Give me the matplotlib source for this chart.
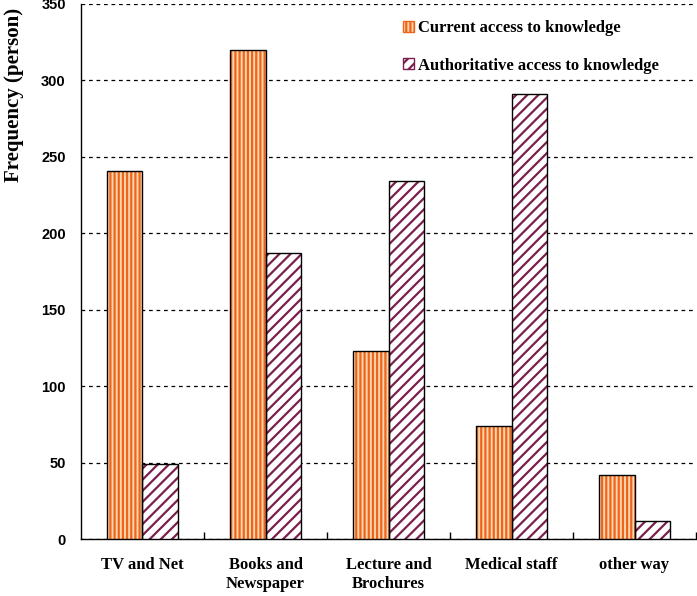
import matplotlib.pyplot as plt
import numpy as np

categories = ["TV and Net", "Books and\nNewspaper", "Lecture and\nBrochures", "Medical staff", "other way"]
current = [241, 320, 123, 74, 42]
authoritative = [49, 187, 234, 291, 12]

plt.rcParams['hatch.linewidth'] = 1.6

fig = plt.figure(figsize=(6.97, 5.96), dpi=100)
ax = fig.add_axes([0.1162, 0.0956, 0.8824, 0.8977])

x = np.arange(len(categories))
w = 0.285

# hatched fills (hatch colour comes from edgecolor), then black outlines on top
ax.bar(x - w / 2, current, w, color='#FFD6B0', edgecolor='#EC651A', hatch='||||', linewidth=0, zorder=3)
ax.bar(x + w / 2, authoritative, w, color='white', edgecolor='#7A1F4E', hatch='///', linewidth=0, zorder=3)
ax.bar(x - w / 2, current, w, fill=False, edgecolor='black', linewidth=1, zorder=4)
ax.bar(x + w / 2, authoritative, w, fill=False, edgecolor='black', linewidth=1, zorder=4)

# legend proxies
ax.bar([0], [0], 0, color='#FFD6B0', edgecolor='#EC651A', hatch='||||', label="Current access to knowledge")
ax.bar([0], [0], 0, color='white', edgecolor='#7A1F4E', hatch='///', label="Authoritative access to knowledge")

ax.set_xlim(-0.5, len(categories) - 0.5)
ax.set_ylim(0, 350)
ax.set_yticks(range(0, 351, 50))
ax.grid(True, axis='y', linestyle=(0, (3, 3)), color='black', linewidth=0.9, zorder=0)

ax.spines['top'].set_visible(False)
ax.spines['right'].set_visible(False)
ax.spines['left'].set_linewidth(1)
ax.spines['bottom'].set_linewidth(1)

ax.set_xticks(x)
ax.set_xticklabels(categories, fontfamily='Liberation Serif', fontweight='bold', fontsize=12, va='top', linespacing=1.25)
ax.tick_params(axis='x', which='major', length=0, pad=13)
ax.set_xticks(np.arange(0.5, len(categories)), minor=True)
ax.tick_params(axis='x', which='minor', direction='in', length=5, width=1)
ax.tick_params(axis='y', length=0, pad=11)
for lab in ax.get_yticklabels():
    lab.set_fontfamily('Liberation Sans')
    lab.set_fontweight('bold')
    lab.set_fontsize(10.5)

ax.set_ylabel("Frequency (person)", fontfamily='Liberation Serif', fontweight='bold', fontsize=15)
ax.yaxis.set_label_coords(-0.092, 0.83)

ax.legend(loc='upper right', bbox_to_anchor=(0.94, 0.97), frameon=False,
          prop={'family': 'Liberation Serif', 'weight': 'bold', 'size': 12},
          handlelength=0.66, handleheight=0.66, handletextpad=0.25, labelspacing=1.3,
          borderpad=0, borderaxespad=0)

fig.savefig('out.png', dpi=100)
